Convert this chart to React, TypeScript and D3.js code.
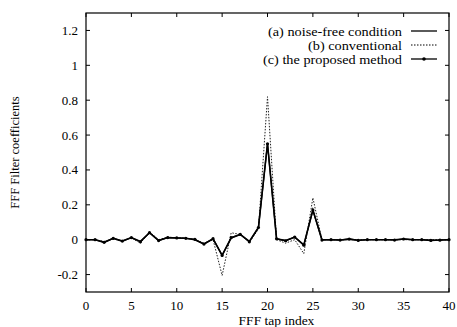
import { useRef, useEffect } from 'react';
import * as d3 from 'd3';

// tap indices 0..40
const taps = d3.range(0, 41);

// (a) noise-free condition
const noiseFree = [
  0, 0, -0.015, 0.008, -0.008, 0.012, -0.01, 0.04, -0.005, 0.012,
  0.01, 0.008, 0.0, -0.025, 0.005, -0.09, 0.01, 0.03, -0.01, 0.07,
  0.55, 0.005, -0.005, 0.015, -0.03, 0.17, 0.0, 0.0, -0.002, 0.003,
  -0.003, 0.0, 0.0, 0.0, 0.0, 0.004, 0.0, 0.0, -0.004, -0.002, 0.0,
];

// (b) conventional
const conventional = [
  0, 0, -0.01, 0.005, -0.01, 0.01, -0.02, 0.045, 0.0, 0.015,
  0.01, 0.01, 0.0, -0.02, 0.0, -0.205, 0.04, 0.03, -0.015, 0.06,
  0.82, 0.0, -0.02, 0.0, -0.08, 0.24, 0.0, 0.0, 0.0, 0.0,
  0.0, 0.0, 0.0, 0.0, 0.0, 0.0, 0.0, 0.0, 0.0, 0.0, 0.0,
];

// (c) the proposed method
const proposed = [
  0, 0.0, -0.015, 0.008, -0.008, 0.012, -0.012, 0.04, -0.005, 0.012,
  0.01, 0.008, 0.002, -0.025, 0.006, -0.09, 0.012, 0.03, -0.012, 0.07,
  0.55, 0.005, -0.006, 0.015, -0.032, 0.17, -0.002, 0.0, -0.002, 0.004,
  -0.004, 0.0, 0.0, 0.0, -0.002, 0.004, 0.0, 0.0, -0.004, -0.003, 0.0,
];

const xTicks = [0, 5, 10, 15, 20, 25, 30, 35, 40];
const yTicks = [-0.2, 0, 0.2, 0.4, 0.6, 0.8, 1, 1.2];
const legendLabels = ['(a) noise-free condition', '(b) conventional', '(c) the proposed method'];
const legendWidths = [134, 94, 139];

export default function App() {
  const svgRef = useRef<SVGSVGElement>(null);
  const width = 457;
  const height = 327;

  useEffect(() => {
    if (!svgRef.current) return;
    const svg = d3.select(svgRef.current);
    svg.selectAll('*').remove();

    const margin = { top: 13, right: 8, bottom: 35, left: 86 };
    const x = d3.scaleLinear().domain([0, 40]).range([margin.left, width - margin.right]);
    const y = d3.scaleLinear().domain([-0.3, 1.3]).range([height - margin.bottom, margin.top]);
    const font = '"Liberation Serif", "DejaVu Serif", serif';

    // frame
    svg.append('rect')
      .attr('x', x(0)).attr('y', y(1.3))
      .attr('width', x(40) - x(0)).attr('height', y(-0.3) - y(1.3))
      .attr('fill', 'none').attr('stroke', '#000').attr('stroke-width', 1.2);

    // inward ticks on all sides
    const tl = 4;
    xTicks.forEach((t) => {
      svg.append('line').attr('x1', x(t)).attr('x2', x(t)).attr('y1', y(-0.3)).attr('y2', y(-0.3) - tl).attr('stroke', '#000');
      svg.append('line').attr('x1', x(t)).attr('x2', x(t)).attr('y1', y(1.3)).attr('y2', y(1.3) + tl).attr('stroke', '#000');
      svg.append('text').attr('x', x(t)).attr('y', y(-0.3) + 18)
        .attr('text-anchor', 'middle').attr('font-family', font).attr('font-size', '13px').text(String(t));
    });
    yTicks.forEach((t) => {
      svg.append('line').attr('x1', x(0)).attr('x2', x(0) + tl).attr('y1', y(t)).attr('y2', y(t)).attr('stroke', '#000');
      svg.append('line').attr('x1', x(40)).attr('x2', x(40) - tl).attr('y1', y(t)).attr('y2', y(t)).attr('stroke', '#000');
      svg.append('text').attr('x', x(0) - 8).attr('y', y(t) + 4.5)
        .attr('text-anchor', 'end').attr('font-family', font).attr('font-size', '13px').text(String(t));
    });

    // axis labels
    svg.append('text').attr('x', (x(0) + x(40)) / 2 + 9).attr('y', 325)
      .attr('text-anchor', 'middle').attr('font-family', font).attr('font-size', '13.5px').text('FFF tap index');
    svg.append('text').attr('transform', `translate(19,${(y(-0.3) + y(1.3)) / 2}) rotate(-90)`)
      .attr('text-anchor', 'middle').attr('font-family', font).attr('font-size', '12.5px').text('FFF Filter coefficients');

    const line = d3.line<number>().x((_, i) => x(taps[i])).y((d) => y(d));

    // (b) conventional - dotted
    svg.append('path').datum(conventional).attr('d', line).attr('fill', 'none')
      .attr('stroke', '#222').attr('stroke-width', 1).attr('stroke-dasharray', '1.5,1.5');
    // (a) noise-free - solid
    svg.append('path').datum(noiseFree).attr('d', line).attr('fill', 'none')
      .attr('stroke', '#000').attr('stroke-width', 1.6);
    // (c) proposed - solid with dots
    svg.append('path').datum(proposed).attr('d', line).attr('fill', 'none')
      .attr('stroke', '#000').attr('stroke-width', 1.3);
    svg.append('g').selectAll('circle').data(proposed).join('circle')
      .attr('cx', (_, i) => x(taps[i])).attr('cy', (d) => y(d)).attr('r', 1.6).attr('fill', '#000');

    // legend
    const lx1 = 411, lx2 = 437;
    legendLabels.forEach((lab, i) => {
      const ly = 31 + i * 14;
      svg.append('text').attr('x', 402).attr('y', ly + 4.5)
        .attr('text-anchor', 'end').attr('font-family', font).attr('font-size', '12.5px')
        .attr('textLength', legendWidths[i]).attr('lengthAdjust', 'spacingAndGlyphs').text(lab);
      const l = svg.append('line').attr('x1', lx1).attr('x2', lx2).attr('y1', ly).attr('y2', ly).attr('stroke', '#000');
      if (i === 0) l.attr('stroke-width', 1.3);
      if (i === 1) l.attr('stroke-width', 1).attr('stroke-dasharray', '1.5,1.5');
      if (i === 2) {
        l.attr('stroke-width', 1.3);
        svg.append('circle').attr('cx', (lx1 + lx2) / 2).attr('cy', ly).attr('r', 1.8).attr('fill', '#000');
      }
    });
  }, []);

  return (
    <svg ref={svgRef} width={width} height={height}
      style={{ position: 'absolute', left: 0, top: 0, background: '#fff' }} />
  );
}
